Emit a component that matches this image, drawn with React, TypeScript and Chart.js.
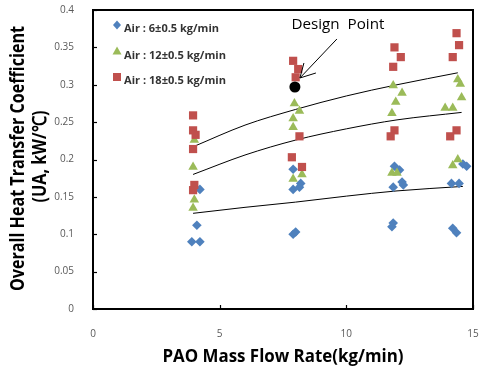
import React, { useEffect, useRef } from 'react';
import { Chart, registerables } from 'chart.js';

Chart.register(...registerables);

// ---- data ----
const air6X = [3.9, 4.22, 4.1, 4.22, 7.9, 8.0, 7.9, 8.2, 7.9, 8.15, 11.8, 11.85, 11.9, 12.1, 12.2, 12.25, 11.85, 14.2, 14.35, 14.6, 14.75, 14.15, 14.45];
const air6Y = [0.09, 0.09, 0.112, 0.16, 0.1, 0.103, 0.187, 0.168, 0.16, 0.163, 0.11, 0.115, 0.191, 0.186, 0.17, 0.166, 0.163, 0.108, 0.102, 0.194, 0.191, 0.168, 0.168];

const air12X = [4.0, 3.95, 4.0, 3.95, 7.95, 8.15, 7.9, 7.9, 8.25, 7.9, 11.85, 12.2, 11.95, 11.8, 11.8, 12.0, 14.4, 14.5, 14.55, 13.9, 14.2, 14.4, 14.2];
const air12Y = [0.226, 0.19, 0.146, 0.135, 0.275, 0.265, 0.255, 0.243, 0.18, 0.174, 0.299, 0.289, 0.277, 0.262, 0.182, 0.182, 0.307, 0.301, 0.283, 0.269, 0.269, 0.2, 0.192];

const air18X = [3.95, 3.95, 4.05, 3.95, 4.0, 3.95, 7.9, 8.1, 8.0, 8.15, 7.85, 8.25, 11.9, 12.15, 11.85, 11.9, 11.75, 14.35, 14.45, 14.2, 14.35, 14.1];
const air18Y = [0.259, 0.239, 0.233, 0.214, 0.166, 0.159, 0.332, 0.321, 0.31, 0.231, 0.203, 0.19, 0.35, 0.337, 0.324, 0.239, 0.231, 0.369, 0.353, 0.337, 0.239, 0.231];

const designX = [7.97];
const designY = [0.297];

const fitX18 = [3.95, 6, 8, 10, 12, 14.4];
const fitY18 = [0.217, 0.246, 0.267, 0.285, 0.3, 0.316];
const fitX12 = [3.95, 6, 8, 10, 12, 14.55];
const fitY12 = [0.18, 0.206, 0.226, 0.241, 0.253, 0.263];
const fitX6 = [3.95, 6, 8, 10, 12, 14.6];
const fitY6 = [0.128, 0.136, 0.143, 0.151, 0.158, 0.164];

const legendLabels = ['Air : 6±0.5 kg/min', 'Air : 12±0.5 kg/min', 'Air : 18±0.5 kg/min'];
const xTitle = 'PAO Mass Flow Rate(kg/min)';
const yTitle1 = 'Overall Heat Transfer Coefficient';
const yTitle2 = '(UA, kW/℃)';
const designLabel = 'Design  Point';

const BLUE = '#4F81BD';
const GREEN = '#9BBB59';
const RED = '#C0504D';

const pts = (xs: number[], ys: number[]) => xs.map((x, i) => ({ x, y: ys[i] }));

function fitText(ctx: CanvasRenderingContext2D, text: string, x: number, y: number, width: number, font: string, color: string, rot = 0, align: CanvasTextAlign = 'center') {
  ctx.save();
  ctx.font = font;
  ctx.fillStyle = color;
  ctx.textBaseline = 'middle';
  ctx.textAlign = align;
  ctx.translate(x, y);
  ctx.rotate(rot);
  const w = ctx.measureText(text).width;
  ctx.scale(width / w, 1);
  ctx.fillText(text, 0, 0);
  ctx.restore();
}

function marker(ctx: CanvasRenderingContext2D, kind: string, x: number, y: number, color: string) {
  ctx.save();
  ctx.fillStyle = color;
  ctx.beginPath();
  if (kind === 'diamond') {
    ctx.moveTo(x, y - 4.5); ctx.lineTo(x + 4, y); ctx.lineTo(x, y + 4.5); ctx.lineTo(x - 4, y); ctx.closePath();
  } else if (kind === 'triangle') {
    ctx.moveTo(x, y - 4.5); ctx.lineTo(x + 4.5, y + 3.5); ctx.lineTo(x - 4.5, y + 3.5); ctx.closePath();
  } else {
    ctx.rect(x - 4, y - 4, 8, 8);
  }
  ctx.fill();
  ctx.restore();
}

const decoPlugin = {
  id: 'deco',
  afterDatasetsDraw(chart: any) {
    const { ctx, chartArea: a, scales } = chart;
    const xs = scales.x, ys = scales.y;
    ctx.save();
    // frame
    ctx.strokeStyle = '#000';
    ctx.lineWidth = 2;
    ctx.strokeRect(a.left, a.top, a.right - a.left, a.bottom - a.top);
    // inward ticks
    ctx.lineWidth = 1.2;
    ys.ticks.forEach((t: any) => {
      const py = Math.round(ys.getPixelForValue(t.value)) + 0.5;
      ctx.beginPath(); ctx.moveTo(a.left, py); ctx.lineTo(a.left + 4, py); ctx.stroke();
    });
    xs.ticks.forEach((t: any) => {
      const px = Math.round(xs.getPixelForValue(t.value)) + 0.5;
      ctx.beginPath(); ctx.moveTo(px, a.bottom); ctx.lineTo(px, a.bottom - 4); ctx.stroke();
    });
    // design point annotation
    const dx = xs.getPixelForValue(designX[0]);
    const dy = ys.getPixelForValue(designY[0]);
    fitText(ctx, designLabel, dx + 43, dy - 62, 93, '14px "Open Sans"', '#000');
    const tipX = dx + 5, tipY = dy - 9;
    ctx.lineWidth = 1;
    ctx.strokeStyle = '#000';
    ctx.beginPath(); ctx.moveTo(dx + 42, dy - 48); ctx.lineTo(tipX, tipY); ctx.stroke();
    ctx.beginPath(); ctx.moveTo(tipX + 4, tipY - 15); ctx.lineTo(tipX, tipY); ctx.lineTo(tipX + 16, tipY - 5); ctx.stroke();
    // legend
    const lx = a.left + 24;
    const rows = [
      { kind: 'diamond', color: BLUE, my: a.top + 15, ty: a.top + 19, w: 95 },
      { kind: 'triangle', color: GREEN, my: a.top + 41, ty: a.top + 46, w: 102 },
      { kind: 'square', color: RED, my: a.top + 67, ty: a.top + 71, w: 102 },
    ];
    rows.forEach((r, i) => {
      marker(ctx, r.kind, lx, r.my, r.color);
      fitText(ctx, legendLabels[i], lx + 7, r.ty, r.w, 'bold 10px "Open Sans"', '#333', 0, 'left');
    });
    ctx.restore();
  },
  afterDraw(chart: any) {
    const { ctx, chartArea: a } = chart;
    const cy = (a.top + a.bottom) / 2;
    fitText(ctx, yTitle1, a.left - 74, cy - 1, 265, 'bold 19px "Open Sans"', '#000', -Math.PI / 2);
    fitText(ctx, yTitle2, a.left - 52, cy - 3, 92, 'bold 19px "Open Sans"', '#000', -Math.PI / 2);
    fitText(ctx, xTitle, (a.left + a.right) / 2, a.bottom + 48, 241, 'bold 18px "Open Sans"', '#000');
  },
};

export default function App() {
  const ref = useRef<HTMLCanvasElement | null>(null);
  useEffect(() => {
    document.body.style.margin = '0';
    if (!ref.current) return;
    const zeroPad = (s: any) => { s.paddingLeft = 0; s.paddingRight = 0; s.paddingTop = 0; s.paddingBottom = 0; };
    const chart = new Chart(ref.current, {
      type: 'scatter',
      data: {
        datasets: [
          { label: 'Design Point', data: pts(designX, designY), pointStyle: 'circle', pointRadius: 5.5, backgroundColor: '#000', borderColor: '#000', borderWidth: 0, order: 0 },
          { label: legendLabels[2], data: pts(air18X, air18Y), pointStyle: 'rect', pointRadius: 5.8, backgroundColor: RED, borderColor: RED, borderWidth: 0, order: 1 },
          { label: legendLabels[1], data: pts(air12X, air12Y), pointStyle: 'triangle', pointRadius: 5.5, backgroundColor: GREEN, borderColor: GREEN, borderWidth: 0, order: 2 },
          { label: legendLabels[0], data: pts(air6X, air6Y), pointStyle: 'rectRot', pointRadius: 4.8, backgroundColor: BLUE, borderColor: BLUE, borderWidth: 0, order: 3 },
          { type: 'line', label: 'fit18', data: pts(fitX18, fitY18), showLine: true, borderColor: '#000', borderWidth: 1, pointRadius: 0, cubicInterpolationMode: 'monotone', fill: false, order: 4 },
          { type: 'line', label: 'fit12', data: pts(fitX12, fitY12), showLine: true, borderColor: '#000', borderWidth: 1, pointRadius: 0, cubicInterpolationMode: 'monotone', fill: false, order: 4 },
          { type: 'line', label: 'fit6', data: pts(fitX6, fitY6), showLine: true, borderColor: '#000', borderWidth: 1, pointRadius: 0, cubicInterpolationMode: 'monotone', fill: false, order: 4 },
        ] as any,
      },
      options: {
        animation: false,
        responsive: false,
        layout: { padding: { left: 0, right: 7, top: 10, bottom: 0 } },
        plugins: { legend: { display: false }, tooltip: { enabled: false } },
        scales: {
          x: {
            type: 'linear', min: 0, max: 15,
            grid: { display: false },
            border: { display: false },
            ticks: { stepSize: 5, padding: 11, color: '#595959', font: { family: 'Open Sans', size: 10 } },
            afterFit: (s: any) => { s.height = 60; zeroPad(s); },
          },
          y: {
            type: 'linear', min: 0, max: 0.4,
            grid: { display: false },
            border: { display: false },
            ticks: {
              stepSize: 0.05, padding: 11, color: '#595959', font: { family: 'Open Sans', size: 10 },
              callback: (v: any) => String(Number(Number(v).toFixed(2))),
            },
            afterFit: (s: any) => { s.width = 93; zeroPad(s); },
          },
        },
      } as any,
      plugins: [decoPlugin],
    });
    return () => chart.destroy();
  }, []);
  return (
    <div style={{ width: 480, height: 369 }}>
      <canvas ref={ref} width={480} height={369} style={{ display: 'block' }} />
    </div>
  );
}
